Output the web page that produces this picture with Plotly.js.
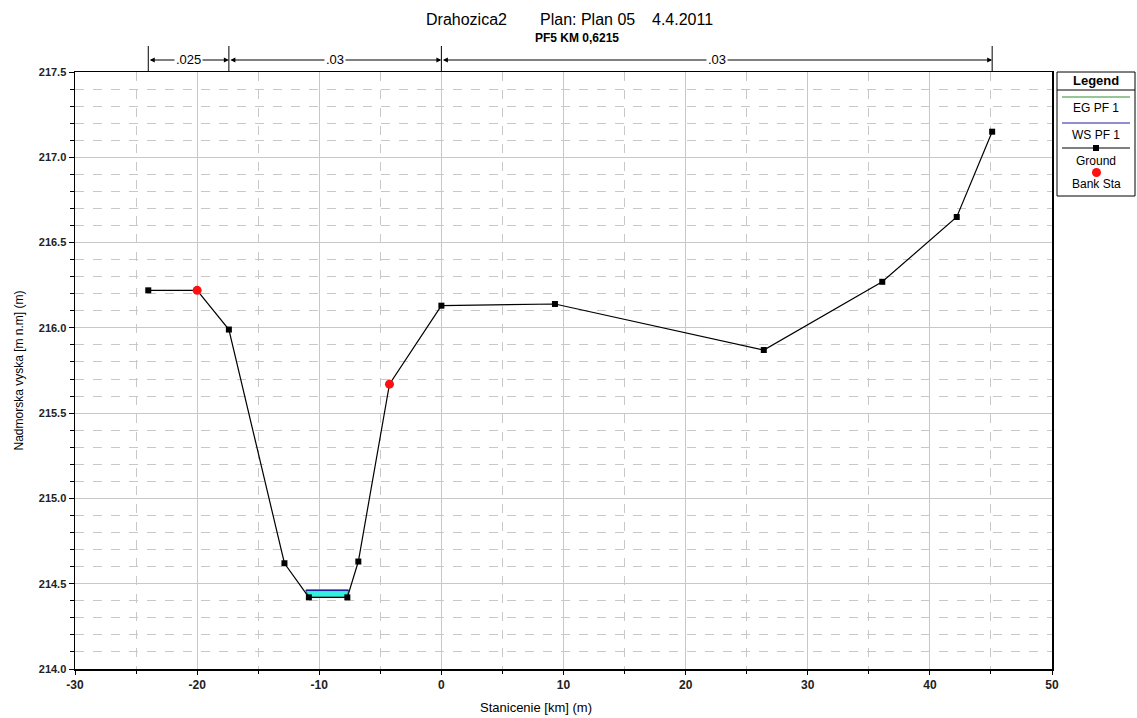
<!DOCTYPE html>
<html>
<head>
<meta charset="utf-8">
<script src="https://cdn.plot.ly/plotly-3.0.1.min.js"></script>
<style>html,body{margin:0;padding:0;background:#fff;}#chart{width:1137px;height:718px;}</style>
</head>
<body>
<div id="chart"></div>
<script>
// ---- data ----
const groundStation = [-24, -20, -17.4, -12.85, -10.85, -7.7, -6.8, -4.25, 0, 9.3, 26.4, 36.1, 42.2, 45.1];
const groundElev    = [216.22, 216.22, 215.99, 214.62, 214.42, 214.42, 214.63, 215.67, 216.13, 216.14, 215.87, 216.27, 216.65, 217.15];
const bankStation = [-20, -4.25];
const bankElev    = [216.22, 215.67];
const wsStation = [-11.1, -7.6];
const wsElev = 214.46;
const egElev = 214.465;
const nStations = [-24, -17.4, 0, 45.1];
const nValues = ['.025', '.03', '.03'];
const xTickVals = [-30, -20, -10, 0, 10, 20, 30, 40, 50];
const xTickText = ['-30', '-20', '-10', '0', '10', '20', '30', '40', '50'];
const titleParts = ['Drahozica2', 'Plan: Plan 05', '4.4.2011'];
const subTitle = 'PF5 KM 0,6215';
const xTitle = 'Stanicenie [km] (m)';
const yTitle = 'Nadmorska vyska [m n.m] (m)';
const legendLabels = ['Legend', 'EG PF 1', 'WS PF 1', 'Ground', 'Bank Sta'];

// ---- geometry helpers (pixel -> paper) ----
const W = 1137, H = 718;
const M = {l: 75, r: 85, t: 72, b: 49};
const pw = W - M.l - M.r, ph = H - M.t - M.b;
const px = x => (x - M.l) / pw;
const py = y => (H - M.b - y) / ph;

const font = 'Arial, "Liberation Sans", sans-serif';
const narrow = '"Liberation Sans Narrow", "Arial Narrow", Arial, sans-serif';

const traces = [
  { // water fill
    x: [wsStation[0], groundStation[4], groundStation[5], wsStation[1], wsStation[0]],
    y: [wsElev, groundElev[4], groundElev[5], wsElev, wsElev],
    mode: 'lines', fill: 'toself', fillcolor: '#33f2dd',
    line: {color: '#1a6a5a', width: 1}, hoverinfo: 'skip', showlegend: false
  },
  { // EG
    x: wsStation, y: [egElev, egElev], mode: 'lines',
    line: {color: '#2e8b2e', width: 1}, showlegend: false
  },
  { // WS
    x: wsStation, y: [wsElev, wsElev], mode: 'lines',
    line: {color: '#2020a0', width: 1}, showlegend: false
  },
  { // ground
    x: groundStation, y: groundElev, mode: 'lines+markers',
    line: {color: '#000', width: 1.2},
    marker: {symbol: 'square', size: 6, color: '#000'}, showlegend: false
  },
  { // bank
    x: bankStation, y: bankElev, mode: 'markers',
    marker: {symbol: 'circle', size: 9, color: '#ff1010'}, showlegend: false
  }
];

const shapes = [];
const annotations = [];
const txt = (x, y, text, f) => annotations.push({xref: 'paper', yref: 'paper', x: x, y: y, text: text,
  showarrow: false, xanchor: 'center', yanchor: 'middle', font: f});

// Manning's n bar
const nY = py(60);
nStations.forEach(s => {
  shapes.push({type: 'line', xref: 'x', yref: 'paper', x0: s, x1: s, y0: 1, y1: py(46), line: {color: '#000', width: 1}});
});
for (let i = 0; i < nValues.length; i++) {
  annotations.push({xref: 'x', yref: 'paper', x: nStations[i + 1], y: nY, axref: 'x', ayref: 'pixel',
    ax: nStations[i], ay: 0, showarrow: true, arrowside: 'end+start', arrowhead: 2, arrowsize: 1,
    arrowwidth: 1, arrowcolor: '#000', text: ''});
  annotations.push({xref: 'x', yref: 'paper', x: (nStations[i] + nStations[i + 1]) / 2, y: nY,
    xanchor: 'center', yanchor: 'middle',
    text: nValues[i], showarrow: false, bgcolor: '#fff', borderpad: 1,
    font: {family: narrow, size: 13, color: '#000'}});
}

// Titles
const titleX = [466, 587, 682];
titleParts.forEach((t, i) => txt(px(titleX[i]), py(19), t, {family: font, size: 16, color: '#000'}));
txt(px(577), py(38), '<b>' + subTitle + '</b>', {family: font, size: 12, color: '#000'});
txt(px(536), py(707), xTitle, {family: narrow, size: 13, color: '#000'});

// Custom legend box
const LX0 = 1057, LX1 = 1135, LY0 = 72, LY1 = 196;
shapes.push({type: 'rect', xref: 'paper', yref: 'paper', x0: px(LX0), x1: px(LX1), y0: py(LY0), y1: py(LY1),
  line: {color: '#000', width: 1}, fillcolor: '#fff'});
shapes.push({type: 'line', xref: 'paper', yref: 'paper', x0: px(LX0), x1: px(LX1), y0: py(90), y1: py(90),
  line: {color: '#000', width: 1}});
shapes.push({type: 'line', xref: 'paper', yref: 'paper', x0: px(1062), x1: px(1130), y0: py(97), y1: py(97),
  line: {color: '#2e8b2e', width: 1.2}});
shapes.push({type: 'line', xref: 'paper', yref: 'paper', x0: px(1062), x1: px(1130), y0: py(123), y1: py(123),
  line: {color: '#2020a0', width: 1.2}});
shapes.push({type: 'line', xref: 'paper', yref: 'paper', x0: px(1062), x1: px(1130), y0: py(148), y1: py(148),
  line: {color: '#000', width: 1.2}});
shapes.push({type: 'rect', xref: 'paper', yref: 'paper', x0: px(1093), x1: px(1099), y0: py(145), y1: py(151),
  line: {color: '#000', width: 0}, fillcolor: '#000'});
shapes.push({type: 'circle', xref: 'paper', yref: 'paper', x0: px(1092), x1: px(1101), y0: py(168), y1: py(177),
  line: {color: '#ff1010', width: 0}, fillcolor: '#ff1010'});
const legY = [80, 108, 135, 161, 184];
legendLabels.forEach((t, i) => txt(px(1096), py(legY[i]), i === 0 ? '<b>' + t + '</b>' : t,
  {family: font, size: i === 0 ? 13 : 12, color: '#000'}));

const gridCol = '#c8c8c8';
const layout = {
  width: W, height: H, margin: M, paper_bgcolor: '#fff', plot_bgcolor: '#fff', showlegend: false,
  font: {family: font, size: 11, color: '#000'},
  xaxis: {
    range: [-30, 50], tickmode: 'array', tickvals: xTickVals, ticktext: xTickText.map(t => '<b>' + t + '</b>'),
    showgrid: true, gridcolor: gridCol, gridwidth: 1,
    zeroline: false, showline: true, linecolor: '#000', linewidth: 1.5, mirror: true,
    ticks: 'outside', ticklen: 4, tickcolor: '#000',
    tickfont: {family: narrow, size: 12, color: '#222'},
    minor: {dtick: 5, tick0: 0, showgrid: true, gridcolor: gridCol, griddash: 'dash', gridwidth: 1, ticks: 'outside', ticklen: 3, tickcolor: '#000'}
  },
  yaxis: {
    range: [214, 217.5], dtick: 0.5, tick0: 214, tickformat: '.1f', tickprefix: '<b>', ticksuffix: '</b>',
    showgrid: true, gridcolor: gridCol, gridwidth: 1,
    zeroline: false, showline: true, linecolor: '#000', linewidth: 1.5, mirror: true,
    ticks: 'outside', ticklen: 5, tickcolor: '#000',
    tickfont: {family: font, size: 11, color: '#222'},
    title: {text: yTitle, font: {family: narrow, size: 12, color: '#000'}, standoff: 12},
    minor: {dtick: 0.1, showgrid: true, gridcolor: gridCol, griddash: 'dash', gridwidth: 1, ticks: 'outside', ticklen: 4, tickcolor: '#000'}
  },
  shapes: shapes,
  annotations: annotations
};

Plotly.newPlot('chart', traces, layout, {displayModeBar: false, staticPlot: true});
</script>
</body>
</html>
